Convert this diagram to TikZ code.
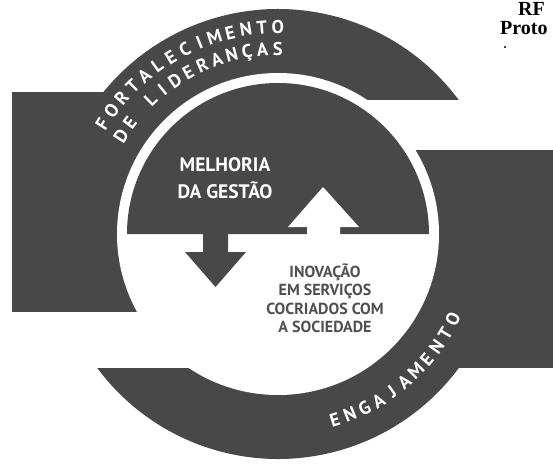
\documentclass[tikz,border=0pt]{standalone}
\usepackage{fontspec}
\usetikzlibrary{calc}
\newfontfamily\bandfont{PT Sans}
\newfontfamily\stampfont{Liberation Serif}
\definecolor{charcoal}{RGB}{72,72,72}
\definecolor{ash}{RGB}{80,80,80}
\tikzset{bandfill/.style={fill=charcoal}}
\tikzset{gapfill/.style={fill=white}}
\tikzset{arcletter/.style={white,font=\bandfont\bfseries\fontsize{18.5}{18.5}\selectfont,anchor=base,inner sep=0pt}}
\tikzset{innerlabel/.style={white,font=\bandfont\bfseries\fontsize{19.5}{19.5}\selectfont,anchor=base}}
\tikzset{lowerlabel/.style={ash,font=\bandfont\bfseries\fontsize{16}{16}\selectfont,anchor=base}}
\tikzset{stamplabel/.style={black,font=\stampfont\bfseries\fontsize{20}{20}\selectfont,anchor=base west,inner sep=0pt}}

\begin{document}
\begin{tikzpicture}[x=1pt,y=1pt]

	\useasboundingbox (0,0) rectangle (553,464);
	\clip (0,0) rectangle (553,464);
	\coordinate (c) at (278,230);
	\fill[bandfill] (12,152) rectangle (278,372);
	\fill[bandfill] (458.7,364) arc[start angle=36.55,end angle=143.45,radius=225] -- cycle;
	\fill[bandfill] (278,96) rectangle (560,314);
	\fill[bandfill] (97.3,96) arc[start angle=216.55,end angle=323.45,radius=225] -- cycle;
	\fill[gapfill] (c) circle[radius=161];
	\fill[bandfill] (429,230) arc[start angle=0,end angle=180,radius=151] -- cycle;
	\fill[bandfill] (203,231) -- (203,212) -- (185,212) -- (215.5,177) -- (246,212) -- (228,212) -- (228,231) -- cycle;
	\fill[gapfill] (307,229) -- (307,237) -- (288,237) -- (323,277) -- (359,237) -- (340,237) -- (340,229) -- cycle;
	\foreach \ch [count=\i, evaluate=\i as \ang using 148-(\i-1)*4.46] in {F,O,R,T,A,L,E,C,I,M,E,N,T,O}
		\node[arcletter,rotate=\ang-90] (f\i) at ($(c)+(\ang:200.5)$) {\ch};
	\foreach \ch [count=\i, evaluate=\i as \ang using 148-(\i-1)*4.83] in {D,E,{},L,I,D,E,R,A,N,Ç,A,S}
		\node[arcletter,rotate=\ang-90] (d\i) at ($(c)+(\ang:178.5)$) {\ch};
	\foreach \ch [count=\i, evaluate=\i as \ang using -73+(\i-1)*4.7] in {E,N,G,A,J,A,M,E,N,T,O}
		\node[arcletter,rotate=\ang+90] (e\i) at ($(c)+(\ang:201)$) {\ch};
	\node[innerlabel] (melhoria) at (225,292) {MELHORIA};
	\node[innerlabel] (gestao) at (225,266) {DA GESTÃO};
	\node[lowerlabel] (inovacao) at (325,187) {INOVAÇÃO};
	\node[lowerlabel] (servicos) at (325,168.5) {EM SERVIÇOS};
	\node[lowerlabel] (cocriados) at (325,150) {COCRIADOS COM};
	\node[lowerlabel] (sociedade) at (325,131.5) {A SOCIEDADE};
	\node[stamplabel] (rf) at (518,448) {RF};
	\node[stamplabel] (proto) at (500,429) {Proto};
	\fill (505,417) circle[radius=1.2];
\end{tikzpicture}
\end{document}
